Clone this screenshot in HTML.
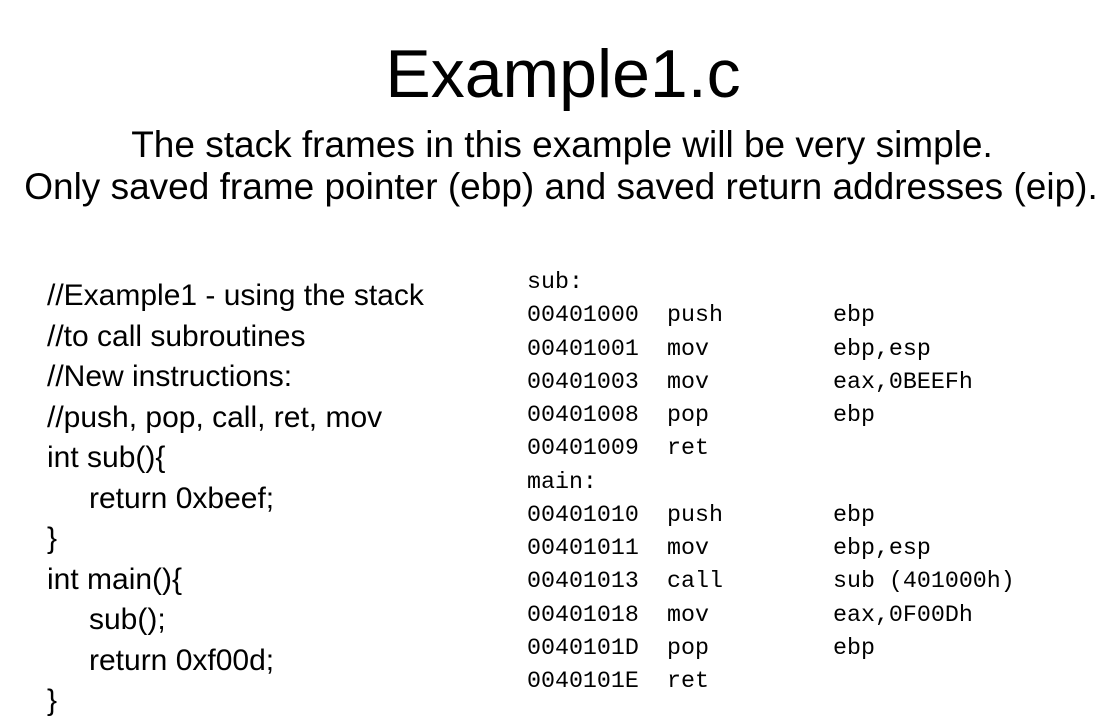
<!DOCTYPE html>
<html><head><meta charset="utf-8"><style>
body{margin:0;width:1119px;height:726px;background:#fff;position:relative;overflow:hidden;font-family:"Liberation Sans",sans-serif;color:#000}
.t{position:absolute;white-space:pre;line-height:1}
.m{position:absolute;white-space:pre;font-family:"Liberation Mono",monospace;font-size:23.3px;line-height:33.25px}
.c{position:absolute;left:47px;top:276px;font-size:30px;line-height:40.5px;white-space:pre}
.c div.i{padding-left:42px}
</style></head><body>
<div class="t" style="left:0;width:1126px;text-align:center;top:40px;font-size:68px">Example1.c</div>
<div class="t" style="left:0;width:1124px;text-align:center;top:126px;font-size:37px">The stack frames in this example will be very simple.</div>
<div class="t" style="left:0;width:1122px;text-align:center;top:168px;font-size:37px">Only saved frame pointer (ebp) and saved return addresses (eip).</div>
<div class="c"><div>//Example1 - using the stack</div><div>//to call subroutines</div><div>//New instructions:</div><div>//push, pop, call, ret, mov</div><div>int sub(){</div><div class="i">return 0xbeef;</div><div>}</div><div>int main(){</div><div class="i">sub();</div><div class="i">return 0xf00d;</div><div>}</div></div>
<div class="m" style="left:527px;top:266px">sub:
00401000
00401001
00401003
00401008
00401009
main:
00401010
00401011
00401013
00401018
0040101D
0040101E</div>
<div class="m" style="left:667px;top:266px">
push
mov
mov
pop
ret

push
mov
call
mov
pop
ret</div>
<div class="m" style="left:833px;top:266px">
ebp
ebp,esp
eax,0BEEFh
ebp


ebp
ebp,esp
sub (401000h)
eax,0F00Dh
ebp
</div>
</body></html>
